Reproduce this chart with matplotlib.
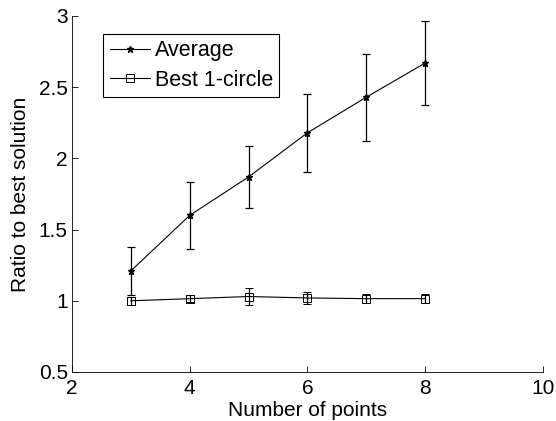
import numpy as np
import matplotlib.pyplot as plt

plt.rcParams['font.family'] = ['Liberation Sans', 'DejaVu Sans']

# data
n_points = [3, 4, 5, 6, 7, 8]
avg_ratio = [1.21, 1.60, 1.87, 2.18, 2.43, 2.67]
avg_err = [0.17, 0.235, 0.22, 0.275, 0.305, 0.295]
best_ratio = [1.00, 1.015, 1.03, 1.02, 1.015, 1.015]
best_err = [0.03, 0.025, 0.06, 0.04, 0.03, 0.03]

fig = plt.figure(figsize=(5.56, 4.21), dpi=100)
ax = fig.add_axes([0.1295, 0.1164, 0.847, 0.8456])

avg = ax.errorbar(n_points, avg_ratio, yerr=avg_err, color='black', marker='*',
                  markersize=4.5, linewidth=0.8, elinewidth=0.9, capsize=3,
                  capthick=0.9)
best = ax.errorbar(n_points, best_ratio, yerr=best_err, color='black', marker='s',
                   markersize=6, markerfacecolor='none', markeredgewidth=0.7,
                   linewidth=0.8, elinewidth=0.9, capsize=3, capthick=0.9)

ax.set_xlim(2, 10)
ax.set_ylim(0.5, 3)
ax.set_xticks([2, 4, 6, 8, 10])
ax.set_yticks([0.5, 1, 1.5, 2, 2.5, 3])
ax.set_yticklabels(['0.5', '1', '1.5', '2', '2.5', '3'])
ax.tick_params(direction='in', length=4, width=0.6, labelsize=15, pad=3)
ax.tick_params(axis='x', pad=5)
ax.spines['top'].set_visible(False)
ax.spines['right'].set_visible(False)
for s in ['left', 'bottom']:
    ax.spines[s].set_linewidth(0.6)

ax.set_xlabel('Number of points', fontsize=15, labelpad=2)
ax.set_ylabel('Ratio to best solution', fontsize=15, labelpad=6)

leg = ax.legend([avg[0], best[0]], ['Average', 'Best 1-circle'],
                loc='upper left', bbox_to_anchor=(0.066, 0.95), fontsize=15.5,
                fancybox=False, edgecolor='black', framealpha=1,
                handlelength=1.9, handletextpad=0.2, borderpad=0.3,
                labelspacing=0.4, borderaxespad=0)
leg.get_frame().set_linewidth(0.8)

fig.savefig('out.png', dpi=100)
